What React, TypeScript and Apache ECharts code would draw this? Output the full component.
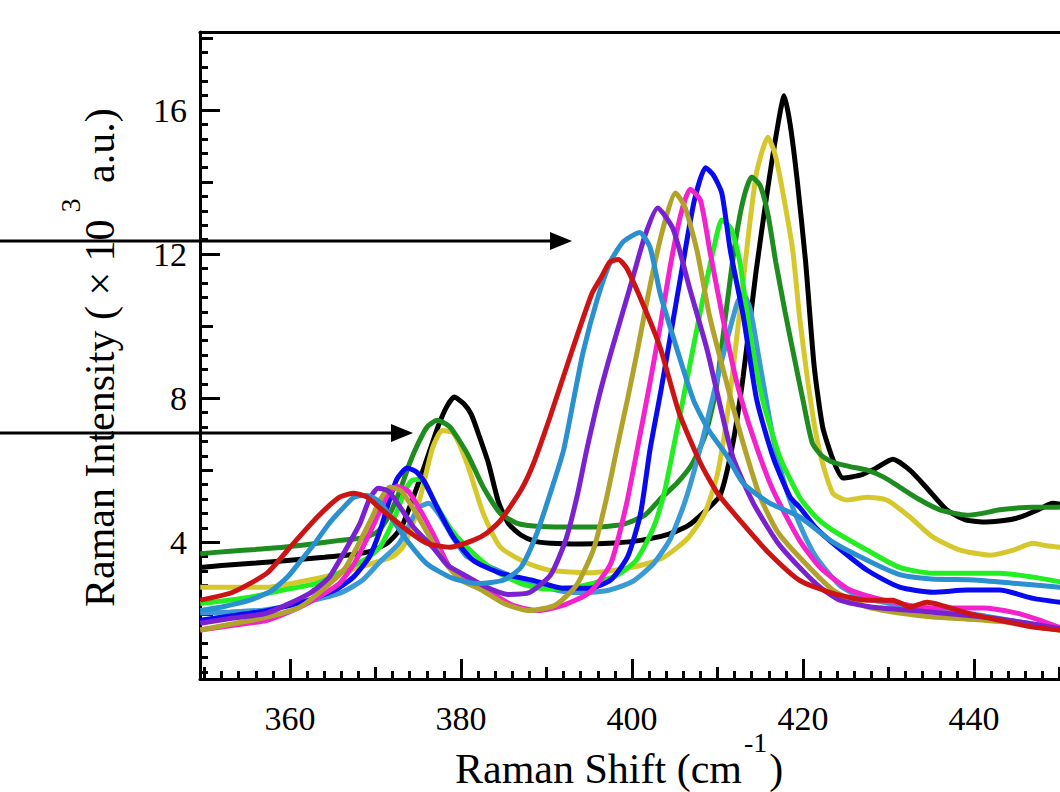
import React, { useEffect, useRef } from "react";
import * as echarts from "echarts";

type Pt = [number, number];

const xMin = 349.47;
const xMax = 450.06;
const yMin = 0.2;
const yMax = 18.17;

const xLabelTicks = [360, 380, 400, 420, 440];
const xMidTicks = [350, 370, 390, 410, 430, 450];
const yLabelTicks = [4, 8, 12, 16];
const yMidTicks = [2, 6, 10, 14, 18];
const xMinorTicks: number[] = [];
for (let v = 350; v <= 450; v += 2) xMinorTicks.push(v);
const yMinorTicks: number[] = [];
for (let i = 1; i <= 45; i++) yMinorTicks.push(Math.round(i * 4) / 10);

const black: Pt[] = [
  [349.5, 3.3], [352, 3.35], [356, 3.42], [360, 3.5], [364, 3.58], [367, 3.65], [369.5, 3.75], [371.5, 4.0], [373, 4.4], [374.5, 5.3], [376, 6.3], [377.3, 7.2], [378.3, 7.75], [379.2, 8.03], [380.3, 7.85], [381.2, 7.55], [382.2, 6.9], [383.2, 6.2], [384.4, 5.1], [385.6, 4.5], [387, 4.2], [388.6, 4.03], [390.5, 3.97], [394, 3.95], [398, 3.98], [401, 4.05], [404, 4.2], [406.5, 4.45], [408.5, 4.85], [410.3, 5.3], [411.8, 6.75], [413, 8.6], [414.5, 11.5], [415.8, 13.7], [417, 15.5], [417.8, 16.4], [418.5, 15.6], [419.3, 14.1], [420.3, 11.8], [421.3, 8.9], [422.3, 7.2], [423.5, 6.3], [424.7, 5.78], [426.7, 5.86], [428.5, 6.05], [430.5, 6.3], [432.5, 6.0], [434.5, 5.5], [436.8, 4.9], [439, 4.62], [441.5, 4.56], [443.5, 4.6], [445.5, 4.7], [447.5, 4.9], [449.2, 5.08], [450.1, 5.05],
];

const yellow: Pt[] = [
  [349.5, 2.75], [353, 2.75], [357.3, 2.75], [361.2, 2.9], [365.8, 3.14], [369.7, 3.42], [372, 3.6], [373.3, 3.9], [374.5, 4.6], [375.6, 5.6], [376.7, 6.64], [377.8, 7.1], [379.1, 7.03], [380.7, 6.19], [382.6, 4.8], [384.6, 3.86], [387.7, 3.42], [390.4, 3.22], [395, 3.15], [400, 3.3], [403.5, 3.55], [406.5, 4.1], [408.5, 4.8], [410, 5.9], [411.3, 7.8], [412.5, 10.2], [413.6, 12.5], [414.6, 14.3], [415.9, 15.25], [416.7, 14.8], [417.5, 13.9], [418.8, 12.1], [419.6, 10.25], [420.6, 8.4], [421.6, 6.9], [422.4, 6.1], [423.5, 5.36], [425.1, 5.17], [427.5, 5.25], [429.8, 5.17], [432.5, 4.7], [435.2, 4.14], [438.4, 3.78], [441.9, 3.64], [444.6, 3.78], [446.9, 3.97], [448.5, 3.9], [450.1, 3.86],
];

const darkGreen: Pt[] = [
  [349.5, 3.68], [353, 3.75], [356, 3.8], [359.2, 3.86], [362.5, 3.95], [365.8, 4.05], [368.5, 4.12], [370.3, 4.3], [371.6, 4.75], [372.8, 5.4], [374, 6.2], [375, 6.75], [376, 7.19], [377.2, 7.39], [378.7, 7.2], [380.7, 6.47], [382.6, 5.53], [384.6, 4.8], [386.5, 4.53], [388.5, 4.45], [392, 4.42], [396, 4.42], [399, 4.5], [401.5, 4.75], [403.3, 5.2], [405.3, 5.65], [407.1, 6.2], [408.6, 7.0], [409.8, 8.2], [411, 10.4], [412, 12.2], [413, 13.5], [414, 14.14], [415, 13.9], [415.9, 13.1], [416.8, 11.8], [417.9, 10.4], [419, 9.1], [420, 7.94], [421.1, 6.75], [422.2, 6.4], [423.5, 6.22], [425.5, 6.1], [427.5, 6.0], [429.5, 5.8], [431.3, 5.53], [433.5, 5.2], [436, 4.9], [439.2, 4.75], [441, 4.8], [443, 4.9], [446.9, 4.97], [449.2, 4.97], [450.1, 4.98],
];

const lightBlue: Pt[] = [
  [349.5, 2.03], [353, 2.06], [357, 2.12], [362, 2.35], [366, 2.6], [368.5, 2.95], [370.5, 3.45], [372.7, 3.95], [374, 4.5], [375, 4.95], [376.2, 5.08], [377.5, 4.75], [379, 4.15], [380.7, 3.6], [383, 3.35], [386, 3.05], [389, 2.8], [393, 2.6], [397, 2.65], [400, 2.9], [402.5, 3.4], [404.5, 4.1], [406.3, 5.2], [408.3, 6.9], [410.3, 8.86], [412.3, 10.64], [413, 10.9], [413.8, 10.5], [415, 8.9], [416.5, 6.9], [418, 5.5], [419.6, 4.5], [421.5, 3.6], [424.3, 2.8], [427, 2.45], [430, 2.3], [433, 2.1], [436, 2.1], [440, 2.0], [445, 1.8], [450.1, 1.6],
];

const brightGreen: Pt[] = [
  [349.5, 2.3], [352.5, 2.38], [355.3, 2.47], [359.2, 2.67], [363.2, 2.86], [367, 3.3], [369, 3.55], [370.5, 3.86], [371.5, 4.3], [372.5, 4.85], [373.4, 5.4], [374.3, 5.72], [375.3, 5.75], [376.3, 5.4], [377.3, 4.95], [379, 4.3], [381.4, 3.7], [384, 3.2], [387, 2.85], [390, 2.7], [394, 2.78], [398, 3.05], [400.5, 3.5], [402.5, 4.4], [403.8, 5.4], [404.8, 6.56], [406, 8.0], [407.1, 9.33], [408.5, 11.0], [409.6, 12.2], [410.5, 12.95], [411.6, 12.7], [412.6, 11.8], [413.8, 9.8], [415.3, 7.94], [417.3, 6.36], [419.6, 5.25], [421.5, 4.7], [423.5, 4.33], [427.5, 3.78], [431.3, 3.3], [435.2, 3.14], [439.2, 3.14], [443, 3.14], [446.9, 3.03], [450.1, 2.9],
];

const blue: Pt[] = [
  [349.5, 1.83], [353, 1.95], [357.3, 2.1], [362.3, 2.4], [365.5, 2.7], [367.5, 3.05], [369.3, 3.6], [370.5, 4.3], [371.4, 5.0], [372.5, 5.75], [373.7, 6.06], [374.8, 5.95], [375.8, 5.65], [377.2, 4.97], [379.1, 4.14], [381.4, 3.5], [384.6, 3.14], [388.4, 2.94], [392, 2.72], [395, 2.72], [397.5, 2.95], [399.5, 3.6], [401, 4.8], [402.1, 6.56], [403.3, 8.1], [404.4, 9.6], [406, 11.8], [407.3, 13.5], [408.6, 14.4], [409.5, 14.2], [410.5, 13.7], [411.5, 12.1], [413, 10.3], [414.6, 7.94], [416.5, 6.36], [418.5, 5.25], [419.6, 4.97], [421.5, 4.4], [423.5, 3.97], [427.5, 3.22], [431.3, 2.75], [435.2, 2.61], [439.2, 2.67], [443, 2.67], [446.9, 2.44], [450.1, 2.33],
];

const magenta: Pt[] = [
  [349.5, 1.56], [353, 1.68], [357.3, 1.83], [361.2, 2.2], [363.5, 2.5], [365.8, 2.86], [367.5, 3.4], [368.8, 4.0], [370.2, 4.7], [371.4, 5.3], [372.5, 5.55], [373.8, 5.42], [375.2, 4.9], [376.8, 4.2], [378.7, 3.3], [381, 2.9], [383, 2.67], [386, 2.25], [389, 2.1], [392, 2.25], [395, 2.6], [397.5, 3.4], [399.3, 5.0], [400.6, 6.56], [402, 8.3], [403.3, 10.0], [404.5, 11.7], [405.7, 13.1], [406.8, 13.8], [408, 13.5], [409.1, 12.1], [410.6, 10.25], [412.3, 8.4], [414.2, 6.9], [416.5, 5.44], [419.6, 4.05], [422, 3.3], [425.5, 2.67], [429.4, 2.39], [435.2, 2.17], [441, 2.17], [445, 2.03], [447.5, 1.85], [450.1, 1.62],
];

const olive: Pt[] = [
  [349.5, 1.56], [353, 1.72], [357.3, 1.92], [361.2, 2.2], [364.7, 2.86], [366.5, 3.3], [367.8, 3.85], [369.5, 4.65], [370.6, 5.2], [371.7, 5.53], [373, 5.42], [374.5, 4.9], [376.2, 4.2], [377.9, 3.5], [380, 2.95], [382.2, 2.7], [385, 2.3], [388, 2.1], [391, 2.25], [393.5, 2.8], [395.5, 3.8], [397, 5.2], [398.2, 6.56], [399.5, 8.0], [400.7, 9.4], [402, 11.0], [403.5, 12.6], [405.1, 13.7], [406.2, 13.3], [407.6, 12.1], [409.1, 10.25], [411.1, 8.4], [413, 6.75], [415, 5.25], [417, 4.3], [419.6, 3.58], [423.5, 2.67], [427.5, 2.2], [431.3, 2.03], [435.2, 1.92], [440, 1.85], [445, 1.75], [450.1, 1.55],
];

const purple: Pt[] = [
  [349.5, 1.75], [353, 1.88], [357.3, 2.03], [362.3, 2.58], [364.5, 3.0], [365.8, 3.5], [367, 4.0], [368.2, 4.53], [369.3, 5.2], [370.3, 5.5], [371.5, 5.42], [372.8, 5.0], [374.5, 4.4], [376.7, 3.86], [378.5, 3.35], [380.7, 3.05], [383, 2.75], [385.5, 2.55], [388, 2.6], [390.5, 3.1], [392.3, 4.1], [393.6, 5.3], [394.7, 6.56], [396.2, 8.1], [397.7, 9.4], [399.8, 11.1], [401.5, 12.5], [403, 13.28], [404.8, 12.7], [406.8, 11.0], [408.8, 9.33], [410.3, 7.8], [411.8, 6.36], [414.2, 5.08], [417, 4.0], [419.6, 3.3], [422, 2.75], [424.3, 2.39], [428, 2.2], [433, 2.1], [440, 1.95], [445, 1.8], [450.1, 1.6],
];

const skyBlue: Pt[] = [
  [349.5, 2.1], [352, 2.2], [355.3, 2.39], [357.8, 2.65], [359.7, 3.03], [361.3, 3.5], [362.9, 3.97], [364.5, 4.5], [366, 4.9], [367.5, 5.25], [369, 5.3], [370.3, 5.15], [371.5, 4.8], [373.5, 4.1], [376, 3.4], [379, 3.0], [382, 2.85], [385, 2.95], [387, 3.3], [388.8, 4.2], [390.5, 5.4], [392, 6.56], [393.2, 8.0], [394.3, 9.3], [396, 10.8], [397.5, 11.8], [399, 12.35], [400.9, 12.6], [402.1, 12.2], [403.3, 10.9], [405.3, 9.33], [407.2, 7.94], [409, 7.1], [411.1, 6.4], [413, 5.64], [416, 5.1], [419.6, 4.7], [423.5, 4.0], [427.5, 3.5], [431.3, 3.1], [435, 2.98], [440, 2.95], [445, 2.85], [450.1, 2.75],
];

const red: Pt[] = [
  [349.5, 2.39], [353.3, 2.61], [357.3, 3.14], [360, 3.86], [363.2, 4.7], [365.8, 5.25], [367.5, 5.36], [369, 5.25], [370.5, 4.95], [373.7, 4.33], [376, 3.97], [378.7, 3.86], [381.4, 4.05], [383, 4.25], [384.6, 4.6], [387, 5.44], [388.5, 6.2], [390.4, 7.47], [393, 9.33], [395.3, 10.9], [396.5, 11.4], [397.4, 11.78], [398.4, 11.85], [399.4, 11.6], [401.3, 10.6], [403.3, 9.4], [405.5, 7.6], [408, 6.2], [410, 5.36], [413, 4.5], [416, 3.7], [419.6, 2.94], [423.5, 2.58], [427.5, 2.39], [430.5, 2.39], [432.5, 2.2], [434.5, 2.33], [439.2, 2.03], [443, 1.83], [446.9, 1.64], [450.1, 1.56],
];

const seriesList: { name: string; color: string; data: Pt[] }[] = [
  { name: "black", color: "#000000", data: black },
  { name: "yellow", color: "#d6c82c", data: yellow },
  { name: "darkGreen", color: "#1f8c1f", data: darkGreen },
  { name: "lightBlue", color: "#3a9ad6", data: lightBlue },
  { name: "brightGreen", color: "#22ee22", data: brightGreen },
  { name: "blue", color: "#0a0af0", data: blue },
  { name: "magenta", color: "#f422cc", data: magenta },
  { name: "olive", color: "#b0a22a", data: olive },
  { name: "purple", color: "#7b22d0", data: purple },
  { name: "skyBlue", color: "#2a90d0", data: skyBlue },
  { name: "red", color: "#cc1414", data: red },
];

const SERIF = '"Liberation Serif", "Times New Roman", serif';

function measure(text: string, size: number): number {
  const ctx = document.createElement("canvas").getContext("2d");
  if (!ctx) return text.length * size * 0.5;
  ctx.font = `${size}px "Liberation Serif"`;
  return ctx.measureText(text).width;
}

export default function App() {
  const ref = useRef<HTMLDivElement>(null);

  useEffect(() => {
    if (!ref.current) return;
    const chart = echarts.init(ref.current, null, { renderer: "svg" });
    const lineStyle = { color: "#000", width: 3 };
    const baseX = {
      type: "value" as const,
      min: xMin,
      max: xMax,
      splitLine: { show: false },
      axisLine: { show: false, onZero: false },
      axisTick: { show: false },
      axisLabel: { show: false },
    };
    const baseY = {
      type: "value" as const,
      min: yMin,
      max: yMax,
      position: "left" as const,
      splitLine: { show: false },
      axisLine: { show: false, onZero: false },
      axisTick: { show: false },
      axisLabel: { show: false },
    };

    const titleSize = 42;
    const supSize = 28;
    const yMain = "Raman Intensity ( \u00d7 10";
    const yEnd = " a.u.)";
    const wYMain = measure(yMain, titleSize);
    const wSup = measure("3", supSize);
    const xMain = "Raman Shift (cm";
    const wXMain = measure(xMain, titleSize);
    const wXSup = measure("-1", supSize);

    const xTitleLeft = 455;
    const xTitleY = 769;
    const yTitleX = 100;
    const yTitleBottom = 607;

    const option: any = {
      animation: false,
      backgroundColor: "#ffffff",
      grid: { left: 200, right: 0, top: 32, bottom: 113, containLabel: false },
      xAxis: [
        {
          ...baseX,
          position: "bottom",
          axisLine: { show: true, onZero: false, lineStyle },
          axisTick: { show: true, inside: true, length: 20, customValues: xLabelTicks, lineStyle },
          axisLabel: {
            show: true,
            customValues: xLabelTicks,
            margin: 22,
            fontSize: 34,
            fontFamily: SERIF,
            color: "#000",
            formatter: (v: number) => String(Math.round(v)),
          },
        },
        {
          ...baseX,
          position: "bottom",
          axisTick: { show: true, inside: true, length: 12, customValues: xMidTicks, lineStyle },
        },
        {
          ...baseX,
          position: "bottom",
          axisTick: { show: true, inside: true, length: 8, customValues: xMinorTicks, lineStyle },
        },
        {
          ...baseX,
          position: "top",
          axisLine: { show: true, onZero: false, lineStyle },
        },
      ],
      yAxis: [
        {
          ...baseY,
          axisLine: { show: true, onZero: false, lineStyle },
          axisTick: { show: true, inside: true, length: 20, customValues: yLabelTicks, lineStyle },
          axisLabel: {
            show: true,
            customValues: yLabelTicks,
            margin: 13,
            fontSize: 34,
            fontFamily: SERIF,
            color: "#000",
            formatter: (v: number) => String(Math.round(v)),
          },
        },
        {
          ...baseY,
          axisTick: { show: true, inside: true, length: 13, customValues: yMidTicks, lineStyle },
        },
        {
          ...baseY,
          axisTick: { show: true, inside: true, length: 8, customValues: yMinorTicks, lineStyle },
        },
      ],
      series: seriesList.map((s) => ({
        name: s.name,
        type: "line",
        xAxisIndex: 0,
        yAxisIndex: 0,
        data: s.data,
        showSymbol: false,
        symbol: "none",
        smooth: 0.2,
        clip: true,
        lineStyle: { color: s.color, width: 5 },
        itemStyle: { color: s.color },
        emphasis: { disabled: true },
      })),
      graphic: [
        {
          type: "group",
          x: yTitleX,
          y: yTitleBottom,
          rotation: Math.PI / 2,
          z: 50,
          children: [
            {
              type: "text",
              x: 0,
              y: 0,
              style: { text: yMain, fontSize: titleSize, fontFamily: SERIF, fill: "#000", textAlign: "left", textVerticalAlign: "middle" },
            },
            {
              type: "text",
              x: wYMain + 7,
              y: -30,
              style: { text: "3", fontSize: supSize, fontFamily: SERIF, fill: "#000", textAlign: "left", textVerticalAlign: "middle" },
            },
            {
              type: "text",
              x: wYMain + wSup + 12,
              y: 0,
              style: { text: yEnd, fontSize: titleSize, fontFamily: SERIF, fill: "#000", textAlign: "left", textVerticalAlign: "middle" },
            },
          ],
        },
        {
          type: "text",
          x: xTitleLeft,
          y: xTitleY,
          z: 50,
          style: { text: xMain, fontSize: titleSize, fontFamily: SERIF, fill: "#000", textAlign: "left", textVerticalAlign: "middle" },
        },
        {
          type: "text",
          x: xTitleLeft + wXMain + 2,
          y: xTitleY - 27,
          z: 50,
          style: { text: "-1", fontSize: supSize, fontFamily: SERIF, fill: "#000", textAlign: "left", textVerticalAlign: "middle" },
        },
        {
          type: "text",
          x: xTitleLeft + wXMain + wXSup + 4,
          y: xTitleY,
          z: 50,
          style: { text: ")", fontSize: titleSize, fontFamily: SERIF, fill: "#000", textAlign: "left", textVerticalAlign: "middle" },
        },
        {
          type: "line",
          z: 100,
          shape: { x1: 0, y1: 241, x2: 552, y2: 241 },
          style: { stroke: "#000", lineWidth: 3 },
        },
        {
          type: "polygon",
          z: 100,
          shape: { points: [[572, 241], [550, 232], [550, 250]] },
          style: { fill: "#000" },
        },
        {
          type: "line",
          z: 100,
          shape: { x1: 0, y1: 433, x2: 394, y2: 433 },
          style: { stroke: "#000", lineWidth: 3 },
        },
        {
          type: "polygon",
          z: 100,
          shape: { points: [[413, 433], [391, 424], [391, 442]] },
          style: { fill: "#000" },
        },
      ],
    };
    chart.setOption(option);
    return () => chart.dispose();
  }, []);

  return (
    <div
      ref={ref}
      style={{ position: "absolute", left: 0, top: 0, width: 1060, height: 792, background: "#fff" }}
    />
  );
}
